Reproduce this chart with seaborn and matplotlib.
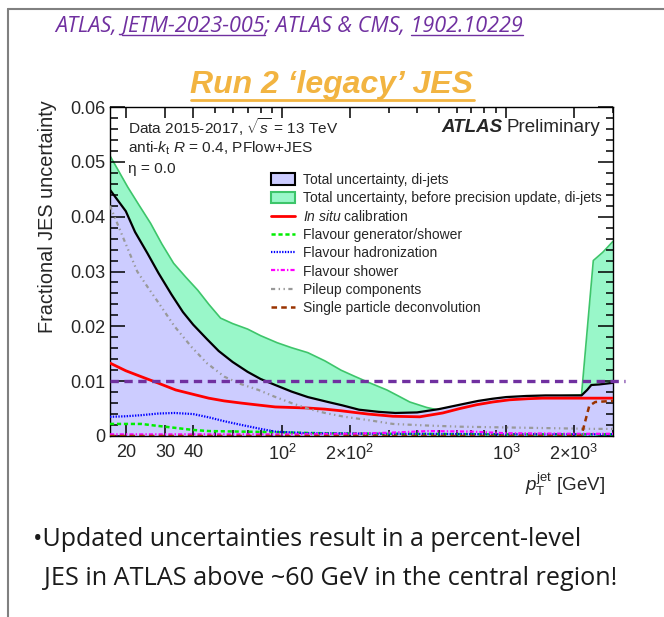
import numpy as np
import pandas as pd
import matplotlib
matplotlib.use('Agg')
import matplotlib.pyplot as plt
from matplotlib.lines import Line2D
from matplotlib.patches import Patch
from matplotlib.ticker import FixedLocator, MultipleLocator, NullFormatter, LogLocator
import seaborn as sns

# ---- values ----
# total uncertainty (new), di-jets
pt_total = [17, 20, 22, 25, 28, 32, 36, 40, 46, 52, 60, 70, 80, 93, 110, 130, 160, 185, 220, 270, 320, 400, 500, 620, 750, 870, 1000, 1230, 1500, 1800, 2170, 2300, 2400, 2600, 3000]
unc_total = [0.0449, 0.0410, 0.0372, 0.0333, 0.0297, 0.0258, 0.0226, 0.0203, 0.0177, 0.0155, 0.0135, 0.0117, 0.0104, 0.0093, 0.0081, 0.0071, 0.0062, 0.0056, 0.0048, 0.0044, 0.0042, 0.0043, 0.0049, 0.0057, 0.0064, 0.0068, 0.0071, 0.0073, 0.0074, 0.0074, 0.0074, 0.0084, 0.0093, 0.0094, 0.0097]
# total uncertainty before precision update
pt_old = [17, 20.4, 23, 25.8, 29, 32.7, 37, 41.9, 47, 53, 60, 70, 80, 95, 110, 130, 155, 183, 210, 242, 293, 330, 371, 442, 490, 620, 800, 1000, 1500, 2170, 2450, 2700, 3000]
unc_old = [0.0511, 0.0454, 0.0420, 0.0388, 0.0350, 0.0315, 0.0290, 0.0266, 0.0240, 0.0215, 0.0205, 0.0195, 0.0183, 0.0170, 0.0161, 0.0152, 0.0137, 0.0120, 0.0109, 0.0098, 0.0084, 0.0073, 0.0062, 0.0052, 0.0048, 0.0054, 0.0064, 0.0069, 0.0072, 0.0075, 0.0320, 0.0335, 0.0355]
# in situ calibration
pt_insitu = [17, 20, 23.5, 27.7, 33.4, 40, 46.9, 55, 65.7, 80, 93, 110, 130, 155, 183, 210, 242, 312, 411, 521, 620, 738, 870, 1035, 1250, 1452, 2056, 3000]
unc_insitu = [0.0133, 0.0119, 0.0108, 0.0097, 0.0084, 0.0076, 0.0069, 0.0064, 0.0060, 0.0056, 0.0053, 0.0052, 0.0051, 0.0049, 0.0046, 0.0043, 0.0040, 0.0036, 0.0035, 0.0042, 0.0050, 0.0057, 0.0062, 0.0066, 0.0068, 0.0069, 0.0069, 0.0069]
# flavour generator/shower
pt_flav_gen = [17, 23.5, 27, 33, 40, 47, 66, 93, 150, 300, 1000, 3000]
unc_flav_gen = [0.0022, 0.0022, 0.0019, 0.0015, 0.0011, 0.0009, 0.0008, 0.0007, 0.0005, 0.0004, 0.0003, 0.0003]
# flavour hadronization
pt_flav_had = [17, 20, 23.5, 28, 33, 40, 47, 55, 66, 80, 93, 130, 300, 1000, 3000]
unc_flav_had = [0.0035, 0.0036, 0.0038, 0.0041, 0.0042, 0.0040, 0.0034, 0.0027, 0.0020, 0.0013, 0.0008, 0.0005, 0.0004, 0.0003, 0.0003]
# flavour shower
pt_flav_shower = [17, 100, 200, 300, 450, 700, 1000, 2000, 3000]
unc_flav_shower = [0.0003, 0.0003, 0.0004, 0.0006, 0.0009, 0.0008, 0.0005, 0.0004, 0.0004]
# pileup components
pt_pileup = [17, 20, 22.5, 25, 28, 33, 39.4, 46, 55.2, 65, 78.2, 92, 110, 130, 155, 190, 242, 312, 450, 621, 1233, 2425, 3000]
unc_pileup = [0.0420, 0.0350, 0.0300, 0.0272, 0.0243, 0.0200, 0.0162, 0.0133, 0.0108, 0.0095, 0.0084, 0.0072, 0.0060, 0.0050, 0.0042, 0.0035, 0.0029, 0.0022, 0.0019, 0.0017, 0.0015, 0.0013, 0.0013]
# single particle deconvolution
pt_single = [17, 2100, 2170, 2350, 2500, 3000]
unc_single = [0.0, 0.0, 0.0001, 0.0055, 0.0062, 0.0064]

percent_level = 0.01

x_ticks = [20, 30, 40, 100, 200, 1000, 2000]
x_tick_labels = ['20', '30', '40', r'$10^{2}$', r'$2{\times}10^{2}$', r'$10^{3}$', r'$2{\times}10^{3}$']
y_ticks = [0, 0.01, 0.02, 0.03, 0.04, 0.05, 0.06]
y_tick_labels = ['0', '0.01', '0.02', '0.03', '0.04', '0.05', '0.06']

legend_labels = ['Total uncertainty, di-jets',
                 'Total uncertainty, before precision update, di-jets',
                 r'$\mathit{In\ situ}$ calibration',
                 'Flavour generator/shower',
                 'Flavour hadronization',
                 'Flavour shower',
                 'Pileup components',
                 'Single particle deconvolution']

# ---- style ----
sns.set_style('ticks')
plt.rcParams.update({
    'font.family': ['Liberation Sans', 'DejaVu Sans'],
    'mathtext.fontset': 'custom',
    'mathtext.rm': 'Liberation Sans',
    'mathtext.it': 'Liberation Sans:italic',
    'mathtext.bf': 'Liberation Sans:bold',
})

W, H = 664, 617
fig = plt.figure(figsize=(W / 100, H / 100), dpi=100)
fig.patch.set_facecolor('white')
ax = fig.add_axes([110 / W, 1 - 436 / H, 503 / W, 329 / H])
ax.set_xscale('log')

lavender = '#ccccff'
mint = '#99f7c9'
mint_edge = '#3dc56a'
purple = '#7030a0'

# bands
ax.fill_between(pt_old, unc_old, 0, color=mint, lw=0, zorder=1)
sns.lineplot(x=pt_old, y=unc_old, ax=ax, color=mint_edge, lw=1.2, zorder=1.5)
ax.fill_between(pt_total, unc_total, 0, color=lavender, lw=0, zorder=2)
sns.lineplot(x=pt_total, y=unc_total, ax=ax, color='black', lw=1.6, zorder=3)

# components (dash patterns in points, independent of line width)
styles = [
    (pt_insitu, unc_insitu, '#ff0000', '-', 2.0, None),
    (pt_flav_gen, unc_flav_gen, '#00ee00', '--', 1.8, (3, 2)),
    (pt_flav_had, unc_flav_had, '#0000ff', '--', 1.6, (1, 1)),
    (pt_flav_shower, unc_flav_shower, '#ff00ff', '--', 1.6, (3, 1.5, 1, 1.5)),
    (pt_pileup, unc_pileup, '#999999', '--', 1.6, (3, 2.5, 1, 2.5, 1, 2.5)),
    (pt_single, unc_single, '#993300', '--', 1.8, (4, 3)),
]
handles = [Patch(facecolor=lavender, edgecolor='black', lw=1.5),
           Patch(facecolor=mint, edgecolor=mint_edge, lw=1.5)]
for xs, ys, c, ls, lw, dash in styles:
    sns.lineplot(x=xs, y=ys, ax=ax, color=c, lw=lw, zorder=4)
    line = ax.lines[-1]
    h = Line2D([], [], color=c, lw=lw)
    if dash is not None:
        pattern = [d / lw for d in dash]
        line.set_dashes(pattern)
        h.set_dashes(pattern)
    handles.append(h)

# percent-level line, reaching past the frame
ax.plot([0, 1.024], [percent_level, percent_level], transform=ax.get_yaxis_transform(),
        color=purple, lw=2.4, dashes=(6 / 2.4, 4 / 2.4), clip_on=False, zorder=6)

ax.set_xlim(17, 3000)
ax.set_ylim(0, 0.06)
ax.xaxis.set_major_locator(FixedLocator(x_ticks))
ax.set_xticklabels(x_tick_labels)
ax.xaxis.set_minor_locator(LogLocator(base=10, subs=np.arange(2, 10)))
ax.xaxis.set_minor_formatter(NullFormatter())
ax.set_yticks(y_ticks)
ax.set_yticklabels(y_tick_labels)
ax.yaxis.set_minor_locator(MultipleLocator(0.002))
for s in ax.spines.values():
    s.set_color('black')
    s.set_linewidth(1.0)
ax.set_axisbelow(False)
ax.tick_params(which='both', direction='in', top=True, right=True, color='black', width=1.1, labelsize=13)
ax.tick_params(axis='y', which='major', length=10.8, pad=3)
ax.tick_params(axis='y', which='minor', length=5.4)
ax.tick_params(axis='x', which='major', length=8, pad=6)
ax.tick_params(axis='x', which='minor', length=4)
ax.set_ylabel('Fractional JES uncertainty', fontsize=14.3, loc='top')
ax.yaxis.set_label_coords(-0.105, 1.02)
ax.set_xlabel(r'$p_{\mathrm{T}}^{\mathrm{jet}}$ [GeV]', fontsize=13.5, loc='right')
ax.xaxis.set_label_coords(0.984, -0.105)
ax.xaxis.label.set_va('top')

# in-plot text
ax.text(0.036, 0.939, r'Data 2015-2017, $\sqrt{s}$ = 13 TeV', transform=ax.transAxes, fontsize=11.1, va='center')
ax.text(0.036, 0.875, r'anti-$k_{\mathrm{t}}$ $R$ = 0.4, PFlow+JES', transform=ax.transAxes, fontsize=11.1, va='center')
ax.text(0.036, 0.812, 'η = 0.0', transform=ax.transAxes, fontsize=11.1, va='center')

ax.legend(handles, legend_labels, loc='upper left', bbox_to_anchor=(0.320, 0.800), frameon=False,
          fontsize=10, borderpad=0, borderaxespad=0, handlelength=1.75, handleheight=0.85,
          handletextpad=0.55, labelspacing=0.30)

# ---- slide decorations ----
fig.add_artist(Line2D([8 / W, 8 / W], [0, 1 - 9 / H], color='#808080', lw=1.5))
fig.add_artist(Line2D([8 / W, 1], [1 - 9 / H, 1 - 9 / H], color='#808080', lw=1.5))

fig.canvas.draw()
renderer = fig.canvas.get_renderer()

def text_width(s, **kw):
    t = fig.text(0, 0, s, **kw)
    w = t.get_window_extent(renderer).width
    t.remove()
    return w

# ATLAS Preliminary label
prelim_kw = dict(fontsize=13.5, va='center')
fig.text(600 / W, 1 - 128 / H, 'Preliminary', ha='right', **prelim_kw)
pre_w = text_width('Preliminary', **prelim_kw)
fig.text((600 - pre_w - 4) / W, 1 - 128 / H, 'ATLAS', ha='right', weight='bold', style='italic', **prelim_kw)

cite_kw = dict(fontsize=15.6, family='Open Sans', style='italic', color=purple)
cite = 'ATLAS, JETM-2023-005; ATLAS & CMS, 1902.10229'
cx, cy = 55, 32
fig.text(cx / W, 1 - cy / H, cite, va='baseline', **cite_kw)
for prefix, piece in [('ATLAS, ', 'JETM-2023-005'), ('ATLAS, JETM-2023-005; ATLAS & CMS, ', '1902.10229')]:
    x1 = cx + text_width(prefix + piece, **cite_kw)
    x0 = x1 - text_width(piece, **cite_kw)
    fig.add_artist(Line2D([x0 / W, x1 / W], [1 - (cy + 3) / H] * 2, color=purple, lw=1.0))

title = fig.text(0.5, 1 - 93 / H, 'Run 2 ‘legacy’ JES', ha='center', va='baseline', fontsize=23,
                 weight='bold', style='italic', color='#f2b441')
bb = title.get_window_extent(renderer)
fig.add_artist(Line2D([bb.x0 / W, bb.x1 / W], [1 - 100 / H] * 2, color='#f2b441', lw=2.0))

fig.text(33 / W, 1 - 546 / H, '•Updated uncertainties result in a percent-level', fontsize=18,
         family='Open Sans', va='baseline', color='#1a1a1a')
fig.text(44 / W, 1 - 585 / H, 'JES in ATLAS above ~60 GeV in the central region!', fontsize=18.2,
         family='Open Sans', va='baseline', color='#1a1a1a')

fig.savefig('out.png', dpi=100)
